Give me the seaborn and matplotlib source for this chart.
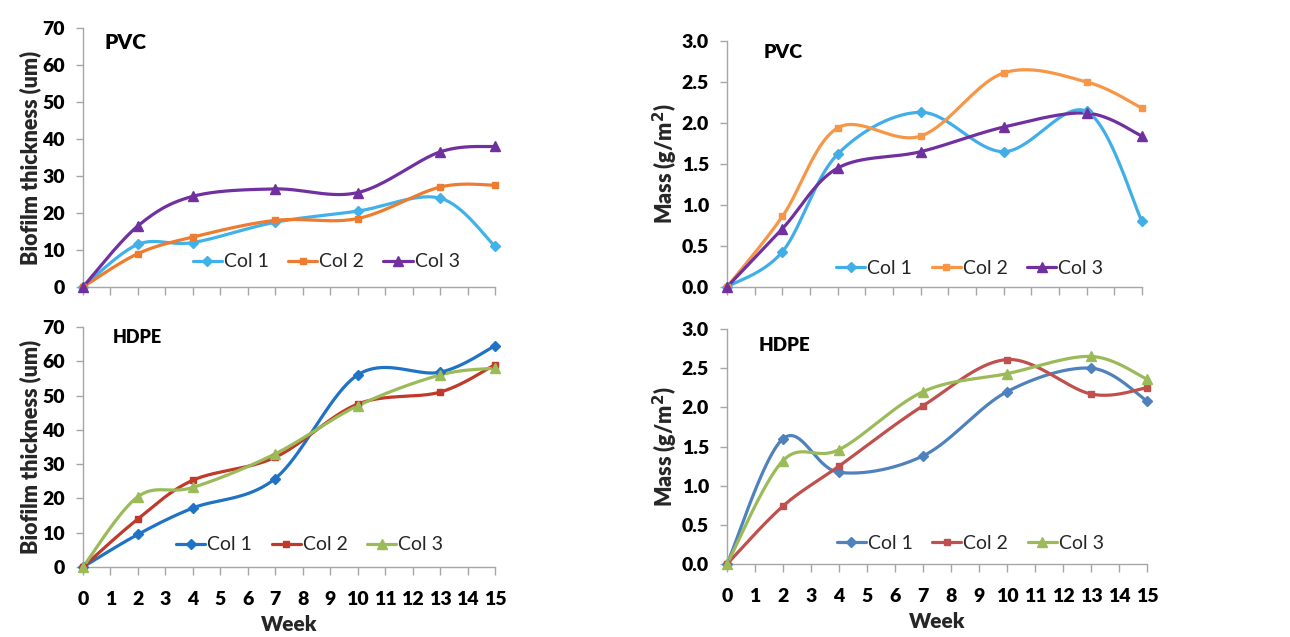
import numpy as np
import pandas as pd
import matplotlib
matplotlib.use("Agg")
import matplotlib.pyplot as plt
from matplotlib.lines import Line2D
import seaborn as sns

sns.set_theme(style="white")
plt.rcParams['font.family'] = ['Lato', 'DejaVu Sans']

weeks = [0, 2, 4, 7, 10, 13, 15]
series_names = ["Col 1", "Col 2", "Col 3"]

pvc_thick_col1 = [0, 11.5, 12.0, 17.5, 20.5, 24.0, 11.0]
pvc_thick_col2 = [0, 9.0, 13.5, 18.0, 18.5, 27.0, 27.5]
pvc_thick_col3 = [0, 16.5, 24.5, 26.5, 25.5, 36.5, 38.0]

pvc_mass_col1 = [0, 0.43, 1.62, 2.13, 1.65, 2.14, 0.80]
pvc_mass_col2 = [0, 0.86, 1.94, 1.84, 2.61, 2.50, 2.18]
pvc_mass_col3 = [0, 0.71, 1.45, 1.65, 1.95, 2.12, 1.84]

hdpe_thick_col1 = [0, 9.5, 17.2, 25.8, 56.0, 56.8, 64.5]
hdpe_thick_col2 = [0, 14.0, 25.3, 32.0, 47.5, 51.0, 59.0]
hdpe_thick_col3 = [0, 20.5, 23.2, 33.0, 47.0, 56.0, 58.0]

hdpe_mass_col1 = [0, 1.60, 1.17, 1.38, 2.20, 2.50, 2.08]
hdpe_mass_col2 = [0, 0.74, 1.25, 2.02, 2.61, 2.17, 2.25]
hdpe_mass_col3 = [0, 1.32, 1.46, 2.20, 2.43, 2.65, 2.36]

x_ticks = list(range(0, 16))
thick_ticks = [0, 10, 20, 30, 40, 50, 60, 70]
mass_ticks = [0.0, 0.5, 1.0, 1.5, 2.0, 2.5, 3.0]


def smooth(xs, ys, n=40):
    """Excel-style smoothed line (Bezier through points, tension 1/6)."""
    P = np.column_stack([xs, ys]).astype(float)
    m = len(P)
    out = []
    t = np.linspace(0, 1, n)[:, None]
    for i in range(m - 1):
        p0 = P[i]
        p3 = P[i + 1]
        pm = P[i - 1] if i > 0 else P[i]
        pp = P[i + 2] if i + 2 < m else P[i + 1]
        c1 = p0 + (p3 - pm) / 6.0
        c2 = p3 - (pp - p0) / 6.0
        seg = ((1 - t) ** 3) * p0 + 3 * ((1 - t) ** 2) * t * c1 + 3 * (1 - t) * t ** 2 * c2 + t ** 3 * p3
        if i > 0:
            seg = seg[1:]
        out.append(seg)
    out = np.vstack(out)
    return out[:, 0], out[:, 1]


fig = plt.figure(figsize=(12.9, 6.37), dpi=100)

panels = [
    dict(rect=[0.0643, 0.5495, 0.3194, 0.4066], data=[pvc_thick_col1, pvc_thick_col2, pvc_thick_col3],
         colors=["#41B1EA", "#EE7C30", "#7030A0"], ylim=70, yticks=thick_ticks, fmt="{:d}",
         ylabel="Biofilm thickness (um)", title="PVC", tsize=15, tpos=(0.053, 0.942), xlab=False,
         leg=(0.59, 0.097)),
    dict(rect=[0.5636, 0.5495, 0.3217, 0.3862], data=[pvc_mass_col1, pvc_mass_col2, pvc_mass_col3],
         colors=["#41AEE8", "#F79646", "#7030A0"], ylim=3.0, yticks=mass_ticks, fmt="{:.1f}",
         ylabel="Mass (g/m$^\\mathbf{2}$)", title="PVC", tsize=14, tpos=(0.087, 0.955), xlab=False,
         leg=(0.585, 0.077)),
    dict(rect=[0.0643, 0.1099, 0.3194, 0.3768], data=[hdpe_thick_col1, hdpe_thick_col2, hdpe_thick_col3],
         colors=["#1F72C4", "#C0392B", "#9BBB59"], ylim=70, yticks=thick_ticks, fmt="{:d}",
         ylabel="Biofilm thickness (um)", title="HDPE", tsize=13, tpos=(0.073, 0.958), xlab=True,
         leg=(0.55, 0.092)),
    dict(rect=[0.5636, 0.1146, 0.3256, 0.3689], data=[hdpe_mass_col1, hdpe_mass_col2, hdpe_mass_col3],
         colors=["#4F81BD", "#C0504D", "#9BBB59"], ylim=3.0, yticks=mass_ticks, fmt="{:.1f}",
         ylabel="Mass (g/m$^\\mathbf{2}$)", title="HDPE", tsize=13.5, tpos=(0.074, 0.93), xlab=True,
         leg=(0.579, 0.089)),
]

markers = ["D", "s", "^"]
msizes = [5, 5, 7]

for p in panels:
    ax = fig.add_axes(p["rect"])
    handles = []
    for vals, name, col, mk, ms in zip(p["data"], series_names, p["colors"], markers, msizes):
        sx, sy = smooth(weeks, vals)
        sns.lineplot(x=sx, y=sy, ax=ax, color=col, linewidth=2.3, sort=False, estimator=None,
                     legend=False)
        ax.plot(weeks, vals, linestyle="none", marker=mk, markersize=ms, color=col, clip_on=False,
                zorder=5)
        handles.append(Line2D([0], [0], color=col, linewidth=2.3, marker=mk, markersize=ms))
    ax.set_xlim(0, 15)
    ax.set_ylim(0, p["ylim"])
    ax.set_xticks(x_ticks)
    ax.set_yticks(p["yticks"])
    ax.set_yticklabels([p["fmt"].format(v) if p["fmt"] == "{:.1f}" else p["fmt"].format(int(v))
                        for v in p["yticks"]], fontsize=14, fontweight="heavy")
    if p["xlab"]:
        ax.set_xticklabels([str(v) for v in x_ticks], fontsize=14, fontweight="heavy")
        ax.set_xlabel("Week", fontsize=15, fontweight="heavy", labelpad=5)
    else:
        ax.set_xticklabels([])
        ax.set_xlabel("")
    ax.set_ylabel(p["ylabel"], fontsize=15.5, fontweight="heavy", labelpad=1)
    for s in ["top", "right"]:
        ax.spines[s].set_visible(False)
    for s in ["left", "bottom"]:
        ax.spines[s].set_color("#A6A6A6")
        ax.spines[s].set_linewidth(1.0)
    ax.tick_params(axis="y", which="both", direction="out", length=5, width=1.0,
                   color="#A6A6A6", labelcolor="black", pad=8, left=True)
    ax.tick_params(axis="x", which="both", direction="out", length=6, width=1.0,
                   color="#A6A6A6", labelcolor="black", pad=11, bottom=True)
    ax.text(p["tpos"][0], p["tpos"][1], p["title"], transform=ax.transAxes, fontsize=p["tsize"],
            fontweight="heavy", ha="left", va="center", color="black")
    ax.legend(handles, series_names, loc="center", bbox_to_anchor=p["leg"], ncol=3, frameon=False,
              fontsize=14, handlelength=1.5, handletextpad=0.1, columnspacing=1.0,
              borderaxespad=0)
    ax.set_facecolor("white")

fig.savefig("out.png", dpi=100, facecolor="white")
